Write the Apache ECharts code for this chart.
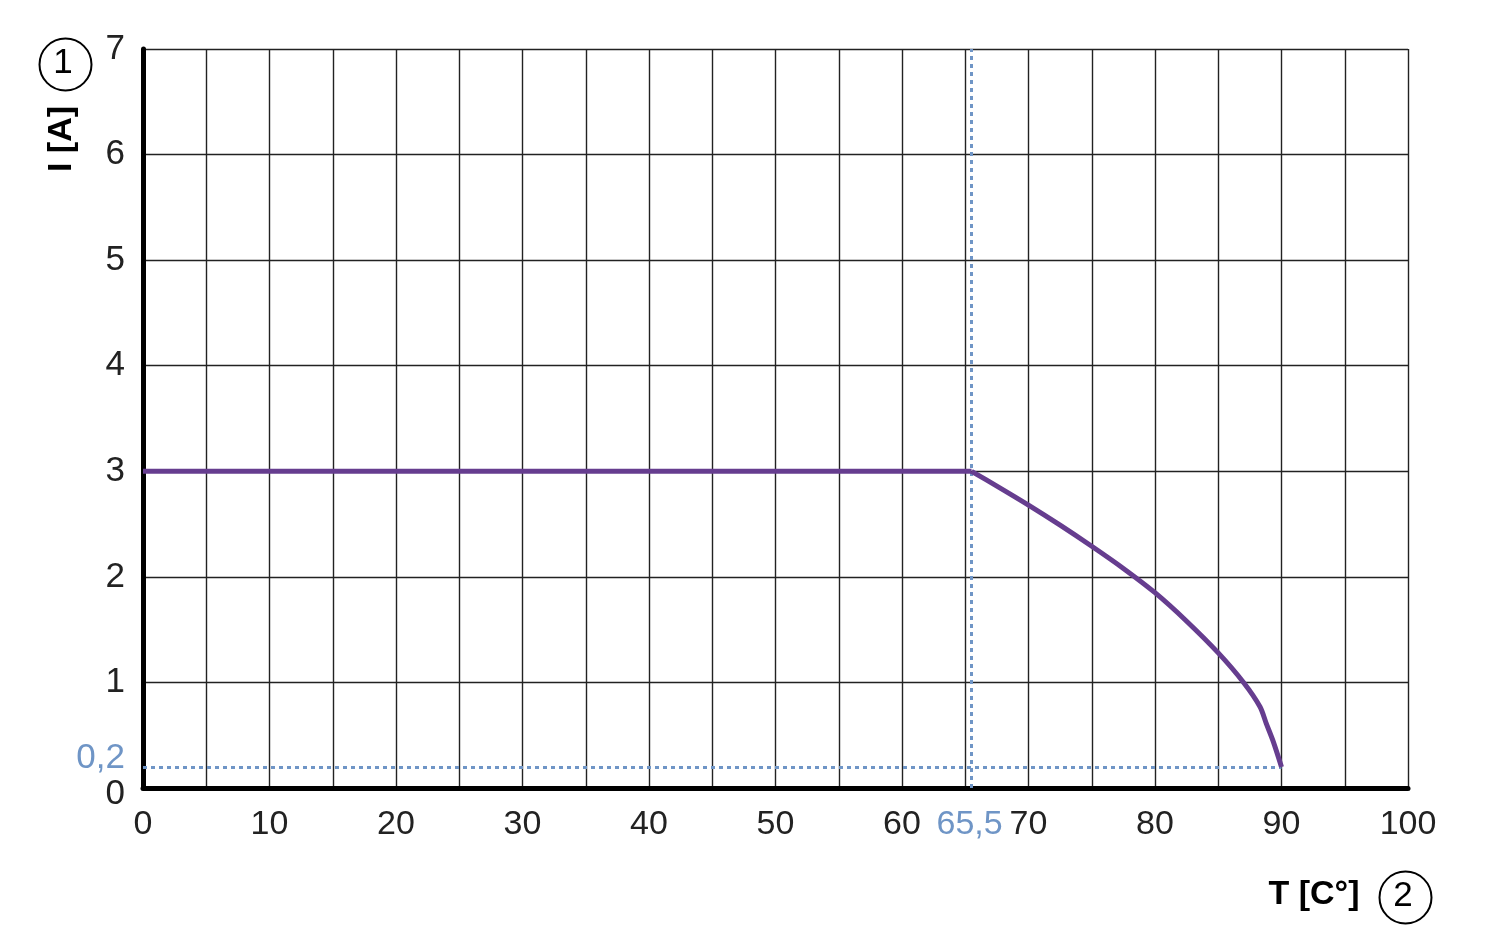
<!DOCTYPE html>
<html>
<head>
<meta charset="utf-8">
<script src="https://cdn.jsdelivr.net/npm/echarts@6/dist/echarts.min.js"></script>
<style>
  html, body { margin: 0; padding: 0; background: #fff; }
  #chart { width: 1500px; height: 952px; }
</style>
</head>
<body>
<div id="chart"></div>
<script>
// derating curve, T in °C, I in A
var tempValues = [0, 65.5, 67.5, 70, 72.5, 75, 77.5, 80, 82.5, 85, 87, 88.3, 88.8, 89.35, 90];
var currentValues = [3, 3, 2.86, 2.68, 2.49, 2.29, 2.08, 1.85, 1.58, 1.28, 1.0, 0.77, 0.61, 0.44, 0.2];
var xLabelValues = [0, 10, 20, 30, 40, 50, 60, 65.5, 70, 80, 90, 100];
var yLabelValues = [0, 0.2, 1, 2, 3, 4, 5, 6, 7];
var kneeTemp = 65.5;
var minCurrent = 0.2;
var endTemp = 90;

var blue = '#6f95c6';
var purple = '#663d8f';
var font = 'Liberation Sans, Arial, sans-serif';

var points = tempValues.map(function (t, i) { return [t, currentValues[i]]; });
var kneeIdx = tempValues.indexOf(kneeTemp);

var chart = echarts.init(document.getElementById('chart'));

var option = {
    backgroundColor: '#fff',
    animation: false,
    textStyle: { fontFamily: font },
    grid: { left: 143, right: 92, top: 49, bottom: 164 },
    xAxis: {
        type: 'value',
        min: 0,
        max: 100,
        interval: 5,
        axisLine: { show: true, onZero: false, lineStyle: { color: '#000', width: 5 } },
        axisTick: { show: false },
        splitLine: { show: true, lineStyle: { color: '#222', width: 1.4 } },
        axisLabel: {
            customValues: xLabelValues,
            margin: 20,
            fontSize: 34,
            color: '#222',
            fontFamily: font,
            formatter: function (v) {
                if (v === kneeTemp) return '{b|65,5}';
                return String(v);
            },
            rich: { b: { color: blue, fontSize: 34, fontFamily: font, padding: [0, 4, 0, 0] } }
        }
    },
    yAxis: {
        type: 'value',
        min: 0,
        max: 7,
        interval: 1,
        axisLine: { show: true, onZero: false, lineStyle: { color: '#000', width: 5 } },
        axisTick: { show: false },
        splitLine: { show: true, lineStyle: { color: '#222', width: 1.4 } },
        axisLabel: {
            customValues: yLabelValues,
            margin: 18,
            fontSize: 35,
            color: '#222',
            fontFamily: font,
            formatter: function (v) {
                if (v === 0) return '{z|0}';
                if (v === minCurrent) return '{b|0,2}';
                return String(v);
            },
            rich: {
                z: { color: '#222', fontSize: 35, fontFamily: font, padding: [12, 0, 0, 0] },
                b: { color: blue, fontSize: 35, fontFamily: font, padding: [0, 0, 18, 0] }
            }
        }
    },
    series: [{
        // flat part
        type: 'line',
        data: points.slice(0, kneeIdx + 1),
        showSymbol: false,
        lineStyle: { color: purple, width: 5 },
        z: 5,
        markLine: {
            silent: true,
            symbol: 'none',
            label: { show: false },
            lineStyle: { color: blue, type: [4, 4], width: 3 },
            data: [
                [{ coord: [kneeTemp, 0] }, { coord: [kneeTemp, 7] }],
                [{ coord: [0, minCurrent] }, { coord: [endTemp, minCurrent] }]
            ]
        }
    }, {
        // falling part
        type: 'line',
        data: points.slice(kneeIdx),
        showSymbol: false,
        smooth: 0.3,
        lineStyle: { color: purple, width: 5 },
        z: 5
    }],
    graphic: [
        { type: 'circle', left: 37, top: 36, shape: { r: 26 }, style: { fill: 'none', stroke: '#000', lineWidth: 2 } },
        { type: 'text', x: 63, y: 63, style: { text: '1', font: '35px ' + font, fill: '#000', align: 'center', verticalAlign: 'middle' } },
        { type: 'text', x: 62, y: 139, rotation: Math.PI / 2, style: { text: 'I [A]', font: 'bold 34px ' + font, fill: '#000', align: 'center', verticalAlign: 'middle' } },
        { type: 'text', x: 1314, y: 895, style: { text: 'T [C°]', font: 'bold 34px ' + font, fill: '#000', align: 'center', verticalAlign: 'middle' } },
        { type: 'circle', left: 1377, top: 869, shape: { r: 26 }, style: { fill: 'none', stroke: '#000', lineWidth: 2 } },
        { type: 'text', x: 1403, y: 896, style: { text: '2', font: '35px ' + font, fill: '#000', align: 'center', verticalAlign: 'middle' } }
    ]
};

chart.setOption(option);
window.addEventListener('resize', function () {
    chart.resize();
});
</script>
</body>
</html>
